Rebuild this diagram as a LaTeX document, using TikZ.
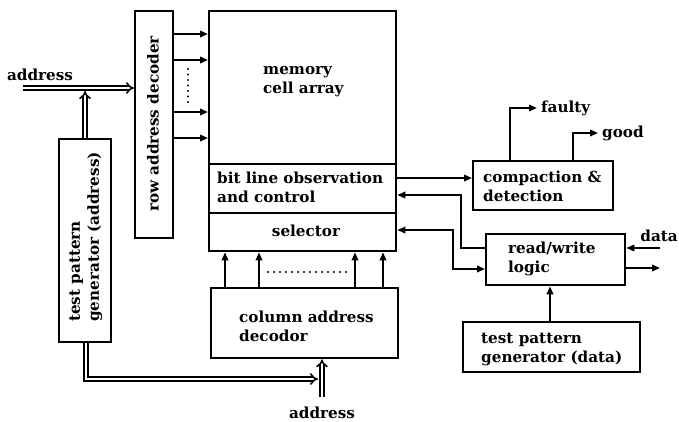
\documentclass[tikz,border=0pt]{standalone}
\usepackage{fontspec}
\setmainfont{DejaVu Serif}
\usetikzlibrary{arrows.meta}
\begin{document}
\begin{tikzpicture}[x=1pt,y=-1pt,
  box/.style={draw, line width=2.3pt, inner sep=0pt, anchor=north west},
  lbl/.style={font=\fontsize{15.2}{19}\selectfont\bfseries, inner sep=0pt, align=left},
  conn/.style={line width=1.9pt, -{Triangle[length=8pt,width=6.5pt]}},
  dbl/.style={double, double distance=2.2pt, line width=1.6pt, -{Implies}}]
\useasboundingbox (0,0) rectangle (679,421);
% boxes
\node[box, minimum width=38pt, minimum height=227pt] (rad) at (134,10) {};
\node[box, minimum width=52pt, minimum height=203pt] (tpa) at (58,138) {};
\node[box, minimum width=187pt, minimum height=153pt] (mem) at (208,10) {};
\node[box, minimum width=187pt, minimum height=49pt] (bit) at (208,163) {};
\node[box, minimum width=187pt, minimum height=38pt] (sel) at (208,212) {};
\node[box, minimum width=187pt, minimum height=70pt] (col) at (210,287) {};
\node[box, minimum width=140pt, minimum height=49pt] (comp) at (472,160) {};
\node[box, minimum width=139pt, minimum height=51pt] (rw) at (485,233) {};
\node[box, minimum width=177pt, minimum height=50pt] (tpd) at (462,321) {};
% texts
\node[lbl, rotate=90] (radt) at (153,124) {row address decoder};
\node[lbl, rotate=90] (tpat) at (86,237) {test pattern\\generator (address)};
\node[lbl, anchor=west] (memt) at (263,82) {memory\\cell array};
\node[lbl, anchor=west] (bitt) at (217,187) {bit line observation\\and control};
\node[lbl] (selt) at (306,231) {selector};
\node[lbl, anchor=west] (colt) at (239,326) {column address\\decodor};
\node[lbl, anchor=west] (compt) at (483,186) {compaction \&\\detection};
\node[lbl, anchor=west] (rwt) at (508,259) {read/write\\logic};
\node[lbl, anchor=west] (tpdt) at (481,350) {test pattern\\generator (data)};
\node[lbl] (addr1) at (40,75) {address};
\node[lbl] (addr2) at (322,413) {address};
\node[lbl, anchor=west, inner xsep=4pt] (faulty) at (537,108) {faulty};
\node[lbl, anchor=west, inner xsep=4pt] (good) at (598,133) {good};
\node[lbl, anchor=east] (data) at (678,236) {data};
% free ends
\coordinate (ain) at (23,88);
\coordinate (j1) at (85,91);
\coordinate (ab) at (322,397);
\coordinate (din) at (660,248);
\coordinate (dout) at (660,268);
% row decoder outputs
\foreach \y in {34,60,112,138}
  \draw[conn] (rad.east |- 0,\y) -- (mem.west |- 0,\y);
\draw[line width=2.4pt, line cap=round, dash pattern=on 0pt off 5.5pt] (188,69) -- (188,102);
% column decoder outputs
\foreach \x in {225,259,355,383}
  \draw[conn] (col.north -| \x,0) -- (sel.south -| \x,0);
\draw[line width=2.2pt, line cap=round, dash pattern=on 0pt off 6pt] (268,272) -- (346,272);
% address buses
\draw[dbl] (ain) -- (rad.west |- ain);
\draw[dbl] (tpa.north -| j1) -- (j1);
\draw[dbl] (tpa.south -| 86,0) -- (86,379) -- (318,379);
\draw[dbl] (ab) -- (col.south -| ab);
% compaction
\draw[conn] (bit.east |- 0,178) -- (comp.west |- 0,178);
\draw[conn] (comp.north -| 510,0) |- (faulty.west);
\draw[conn] (comp.north -| 573,0) |- (good.west);
% read/write
\draw[conn] (rw.west |- 0,248) -| (461,195) -- (bit.east |- 0,195);
\draw[line width=1.9pt, {Triangle[length=8pt,width=6.5pt]}-{Triangle[length=8pt,width=6.5pt]}] (sel.east |- 0,230) -| (453,269) -- (rw.west |- 0,269);
\draw[conn] (din) -- (rw.east |- din);
\draw[conn] (rw.east |- dout) -- (dout);
\draw[conn] (tpd.north -| 550,0) -- (rw.south -| 550,0);
\end{tikzpicture}
\end{document}
